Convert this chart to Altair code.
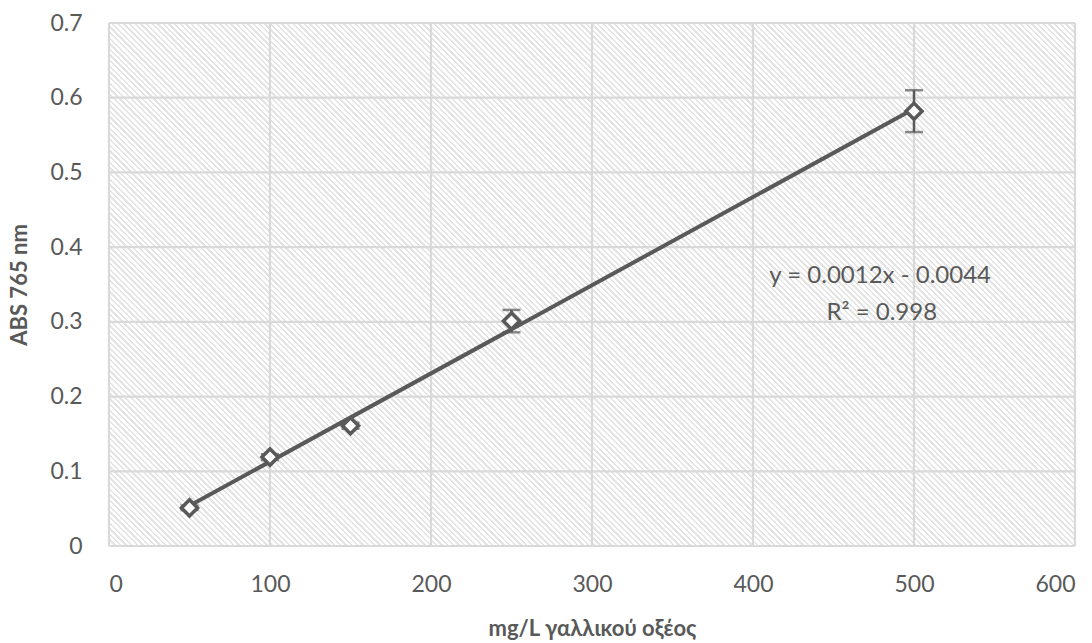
import altair as alt
import numpy as np
import pandas as pd

# data
conc = [50, 100, 150, 250, 500]
absorb = [0.051, 0.119, 0.161, 0.301, 0.582]
err = [0.003, 0.004, 0.004, 0.015, 0.028]
eq_lines = ["y = 0.0012x - 0.0044", "R² = 0.998"]
eq_x = [479, 480]
eq_y = [0.362, 0.312]

x_ticks = [0, 100, 200, 300, 400, 500, 600]
y_ticks = [0, 0.1, 0.2, 0.3, 0.4, 0.5, 0.6, 0.7]

df = pd.DataFrame({"x": conc, "y": absorb, "e": err})
df["lo"] = df["y"] - df["e"]
df["hi"] = df["y"] + df["e"]
eq = pd.DataFrame({"t": eq_lines, "x": eq_x, "y": eq_y})
gx = pd.DataFrame({"v": x_ticks})
gy = pd.DataFrame({"v": y_ticks})
bg = pd.DataFrame({"x0": [x_ticks[0]], "x1": [x_ticks[-1]], "y0": [y_ticks[0]], "y1": [y_ticks[-1]]})

W, H = 966, 523
DARK = "#595959"
GRID = "#d9d9d9"
FONT = "Lato"

# hatched plot background as a striped linear gradient (45-degree lines)
k = (W + H) / (W ** 2 + H ** 2)
period_px = 4.0
n = int(((W + H) / np.sqrt(2)) / period_px) + 1
stops = []
for i in range(n):
    a = i / n
    b = (i + 0.42) / n
    c = (i + 1) / n
    stops += [
        {"offset": a, "color": "#e4e4e4"},
        {"offset": b, "color": "#e4e4e4"},
        {"offset": b, "color": "#ffffff"},
        {"offset": c, "color": "#ffffff"},
    ]
hatch = {"gradient": "linear", "x1": 0, "y1": 1, "x2": k * W, "y2": 1 - k * H, "stops": stops}

xs = alt.Scale(domain=[0, 600], nice=False)
ys = alt.Scale(domain=[0, 0.7], nice=False)

xaxis = alt.Axis(values=x_ticks, title="mg/L γαλλικού οξέος", ticks=False, domain=False, grid=False,
                 labelPadding=27, titlePadding=22)
yaxis = alt.Axis(values=y_ticks, title="ABS 765 nm", format=".1~f", ticks=False, domain=False, grid=False,
                 labelPadding=27, titlePadding=18)

back = alt.Chart(bg).mark_rect(fill=hatch, stroke=None).encode(
    x=alt.X("x0:Q", scale=xs, axis=xaxis), x2="x1:Q",
    y=alt.Y("y0:Q", scale=ys, axis=yaxis), y2="y1:Q",
)
vgrid = alt.Chart(gx).mark_rule(color=GRID, strokeWidth=2.2).encode(
    x=alt.X("v:Q", scale=xs), y=alt.datum(0), y2=alt.datum(0.7)
)
hgrid = alt.Chart(gy).mark_rule(color=GRID, strokeWidth=2.2).encode(
    y=alt.Y("v:Q", scale=ys), x=alt.datum(0), x2=alt.datum(600)
)

base = alt.Chart(df)
trend = base.transform_regression("x", "y").mark_line(color=DARK, strokeWidth=4).encode(
    x=alt.X("x:Q", scale=xs),
    y=alt.Y("y:Q", scale=ys),
)
bars = base.mark_rule(color=DARK, strokeWidth=2.5).encode(
    x=alt.X("x:Q", scale=xs), y=alt.Y("lo:Q", scale=ys), y2="hi:Q"
)
cap_lo = base.mark_tick(color=DARK, thickness=2.5, size=18, orient="horizontal").encode(
    x=alt.X("x:Q", scale=xs), y=alt.Y("lo:Q", scale=ys)
)
cap_hi = base.mark_tick(color=DARK, thickness=2.5, size=18, orient="horizontal").encode(
    x=alt.X("x:Q", scale=xs), y=alt.Y("hi:Q", scale=ys)
)
points = base.mark_point(shape="diamond", filled=True, fill="white", stroke=DARK,
                         strokeWidth=3.5, size=260, opacity=1).encode(
    x=alt.X("x:Q", scale=xs), y=alt.Y("y:Q", scale=ys)
)
text = alt.Chart(eq).mark_text(font=FONT, fontSize=24, color=DARK, align="center",
                               baseline="middle").encode(
    x=alt.X("x:Q", scale=xs), y=alt.Y("y:Q", scale=ys), text="t:N"
)

chart = alt.layer(back, vgrid, hgrid, trend, bars, cap_lo, cap_hi, points, text).properties(
    width=W, height=H,
    autosize=alt.AutoSizeParams(type="none"),
    padding={"left": 109, "top": 23, "right": 17, "bottom": 97},
    background="white",
).configure_view(
    stroke=None
).configure_axis(
    labelFont=FONT, labelFontSize=23, labelColor=DARK,
    titleFont=FONT, titleFontSize=22, titleFontWeight="bold", titleColor=DARK,
)

chart.save("out.html", embed_options={"renderer": "svg", "actions": False})
